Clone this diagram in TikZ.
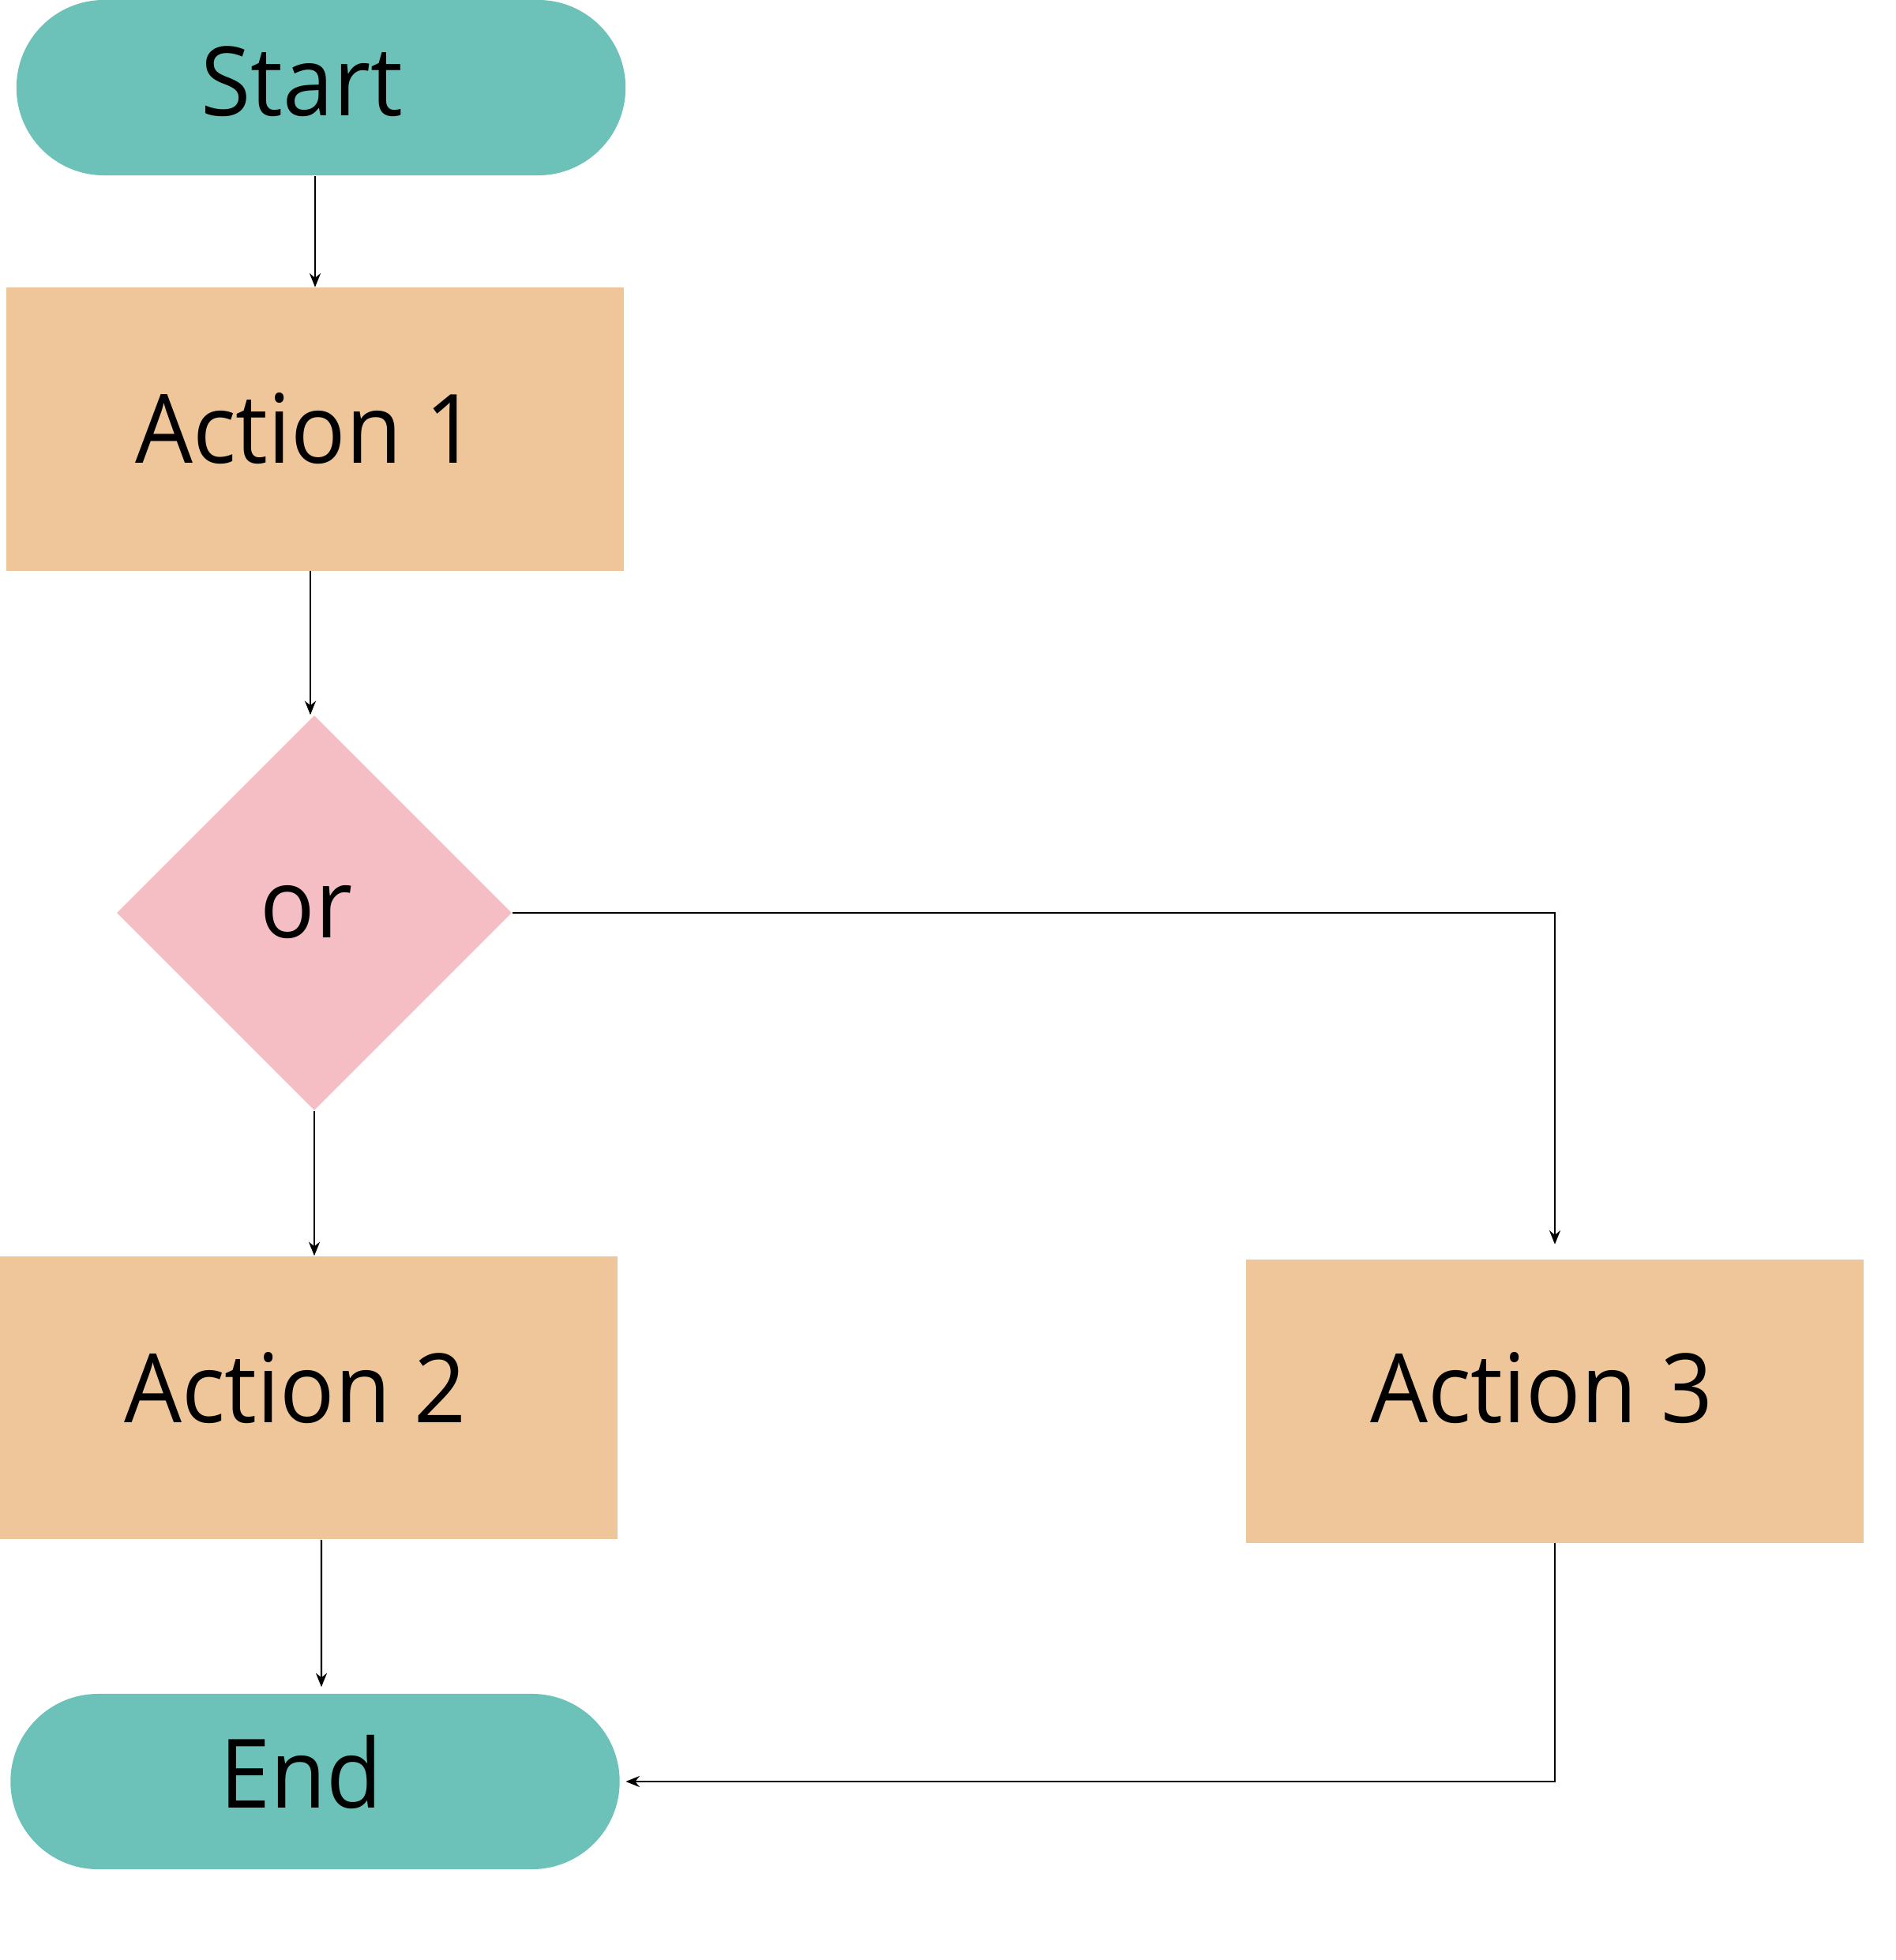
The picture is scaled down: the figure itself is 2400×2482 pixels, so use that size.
\documentclass[tikz,border=0pt]{standalone}
\usepackage{fontspec}
\setmainfont[FakeStretch=0.95]{Open Sans}
\usetikzlibrary{arrows.meta,shapes.geometric}
\definecolor{teal}{HTML}{6CC2B8}
\definecolor{peach}{HTML}{EEC69A}
\definecolor{pinkish}{HTML}{F4BEC4}
\tikzset{
  term/.style={fill=teal, rounded corners=1.11cm, minimum width=7.71cm, minimum height=2.22cm, inner sep=0pt, draw=none},
  actbox/.style={fill=peach, minimum width=7.82cm, minimum height=3.58cm, inner sep=0pt, draw=none},
  decide/.style={diamond, fill=pinkish, minimum width=5cm, minimum height=5cm, inner sep=0pt, aspect=1, draw=none},
  lbl/.style={font=\fontsize{34.5}{40}\selectfont, inner sep=0pt, anchor=base},
  arr/.style={-{Stealth[length=5pt,width=4pt]}, line width=0.6pt, black},
}
\begin{document}
\begin{tikzpicture}[x=0.01cm, y=-0.01cm]
\useasboundingbox (0,0) rectangle (2400,2482);
\node[term] (start) at (406.5,111) {};
\node[actbox] (a1) at (399,543.5) {};
\node[decide] (dia) at (398,1156) {};
\node[actbox] (a2) at (391,1770) {};
\node[actbox] (a3) at (1969,1774.5) {};
\node[term] (end) at (399,2256) {};
\node[lbl] (tstart) at (382,147) {Start};
\node[lbl] (ta1) at (388,586) {Action 1};
\node[lbl] (tor) at (388,1187) {or};
\node[lbl] (ta2) at (374,1801) {Action 2};
\node[lbl] (ta3) at (1952,1801) {Action 3};
\node[lbl] (tend) at (381.5,2289) {End};
\coordinate (c2) at (1969,2256);
\draw[arr] (start.south -| a1.north) -- (a1.north);
\draw[arr] ([xshift=-0.05cm]a1.south -| dia.north) -- ([xshift=-0.05cm]dia.north);
\draw[arr] (dia.south) -- (dia.south |- a2.north);
\draw[arr, shorten >=0.08cm] ([xshift=0.16cm]a2.south) -- ([xshift=0.08cm]end.north);
\draw[arr, shorten >=0.19cm] (dia.east) -- (dia.east -| a3.north) -- (a3.north);
\draw[arr, shorten >=0.07cm] (a3.south) -- (c2) -- (end.east);
\end{tikzpicture}
\end{document}
